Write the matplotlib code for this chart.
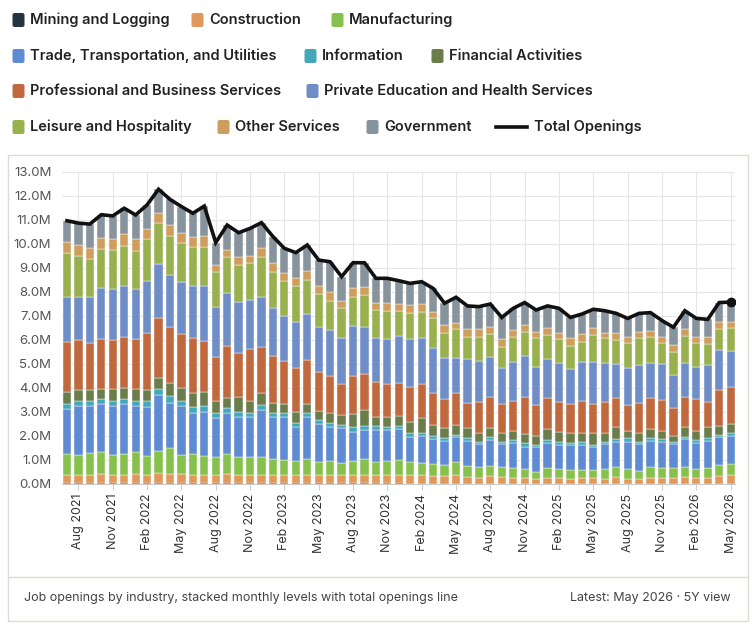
import numpy as np
import pandas as pd
import matplotlib.pyplot as plt
import matplotlib.patches as mpatches
import matplotlib.lines as mlines

plt.rcParams['font.family'] = ['Inter', 'DejaVu Sans']

# monthly job openings by industry, millions (Jul 2021 .. May 2026)
months = pd.date_range("2021-07-01", "2026-05-01", freq="MS")

mining = [0.03, 0.03, 0.03, 0.03, 0.03, 0.03, 0.03, 0.03, 0.03, 0.03, 0.03, 0.03, 0.03,
          0.03, 0.03, 0.03, 0.03, 0.03, 0.03, 0.03, 0.03, 0.03, 0.03, 0.03, 0.03, 0.03,
          0.03, 0.03, 0.03, 0.03, 0.02, 0.02, 0.02, 0.02, 0.02, 0.02, 0.02, 0.02, 0.02,
          0.02, 0.02, 0.02, 0.02, 0.02, 0.02, 0.02, 0.02, 0.02, 0.02, 0.02, 0.02, 0.02,
          0.02, 0.02, 0.02, 0.02, 0.02, 0.02, 0.02]
construction = [0.35, 0.35, 0.35, 0.39, 0.35, 0.35, 0.39, 0.35, 0.42, 0.39, 0.39, 0.35, 0.33,
                0.35, 0.39, 0.35, 0.33, 0.35, 0.35, 0.35, 0.33, 0.35, 0.33, 0.35, 0.33, 0.35,
                0.35, 0.35, 0.35, 0.35, 0.34, 0.34, 0.31, 0.31, 0.34, 0.29, 0.24, 0.31, 0.29,
                0.24, 0.24, 0.17, 0.24, 0.24, 0.20, 0.24, 0.24, 0.20, 0.29, 0.20, 0.20, 0.24,
                0.24, 0.24, 0.29, 0.24, 0.24, 0.31, 0.34]
manufacturing = [0.87, 0.83, 0.90, 0.93, 0.83, 0.87, 0.93, 0.79, 0.94, 1.07, 0.79, 0.87, 0.81,
                 0.76, 0.83, 0.76, 0.75, 0.73, 0.65, 0.62, 0.61, 0.65, 0.57, 0.59, 0.50, 0.59,
                 0.65, 0.55, 0.59, 0.62, 0.57, 0.53, 0.50, 0.46, 0.57, 0.44, 0.43, 0.42, 0.38,
                 0.39, 0.35, 0.32, 0.39, 0.35, 0.36, 0.32, 0.32, 0.39, 0.38, 0.39, 0.34, 0.43,
                 0.39, 0.39, 0.41, 0.35, 0.39, 0.46, 0.47]
trade = [1.86, 2.04, 1.97, 1.98, 2.04, 2.08, 1.90, 2.05, 2.32, 1.90, 2.04, 1.72, 1.83,
         1.60, 1.69, 1.67, 1.67, 1.97, 1.75, 1.78, 1.42, 1.75, 1.57, 1.39, 1.46, 1.21,
         1.22, 1.32, 1.28, 1.28, 1.04, 1.11, 1.03, 1.02, 1.01, 1.06, 0.98, 1.08, 0.98,
         1.04, 0.95, 1.02, 1.07, 1.02, 1.05, 1.05, 0.95, 1.06, 1.07, 1.15, 1.11, 1.12,
         1.11, 1.02, 1.14, 1.11, 1.16, 1.15, 1.17]
information = [0.22, 0.22, 0.22, 0.20, 0.22, 0.20, 0.21, 0.23, 0.23, 0.28, 0.22, 0.22, 0.25,
               0.23, 0.21, 0.20, 0.19, 0.21, 0.16, 0.16, 0.17, 0.16, 0.17, 0.17, 0.14, 0.18,
               0.17, 0.17, 0.14, 0.14, 0.14, 0.14, 0.14, 0.09, 0.10, 0.09, 0.09, 0.11, 0.09,
               0.14, 0.13, 0.10, 0.11, 0.13, 0.09, 0.13, 0.10, 0.09, 0.10, 0.14, 0.09, 0.09,
               0.10, 0.09, 0.11, 0.11, 0.09, 0.10, 0.11]
financial = [0.52, 0.45, 0.45, 0.41, 0.47, 0.46, 0.48, 0.47, 0.49, 0.52, 0.52, 0.62, 0.60,
             0.50, 0.42, 0.63, 0.50, 0.49, 0.45, 0.39, 0.44, 0.39, 0.39, 0.41, 0.42, 0.56,
             0.66, 0.36, 0.42, 0.41, 0.49, 0.60, 0.46, 0.42, 0.42, 0.42, 0.38, 0.38, 0.35,
             0.39, 0.39, 0.37, 0.45, 0.42, 0.39, 0.38, 0.48, 0.38, 0.50, 0.32, 0.38, 0.38,
             0.36, 0.25, 0.42, 0.39, 0.49, 0.38, 0.39]
professional = [2.08, 2.08, 1.97, 2.10, 2.06, 2.12, 2.10, 2.36, 2.47, 2.34, 2.26, 2.26, 2.12,
                1.81, 2.18, 1.80, 2.14, 1.92, 1.94, 1.81, 1.82, 1.84, 1.62, 1.56, 1.29, 1.58,
                1.50, 1.48, 1.36, 1.39, 1.43, 1.43, 1.32, 1.21, 1.32, 1.07, 1.29, 1.32, 1.22,
                1.25, 1.53, 1.29, 1.29, 1.25, 1.22, 1.33, 1.22, 1.29, 1.21, 1.07, 1.25, 1.29,
                1.28, 1.14, 1.22, 1.31, 1.04, 1.50, 1.53]
education_health = [1.88, 1.78, 1.91, 2.13, 2.11, 2.14, 2.07, 2.19, 2.27, 2.18, 2.15, 2.18, 2.28,
                    2.11, 2.19, 2.16, 2.06, 2.08, 1.99, 1.86, 1.94, 1.90, 1.88, 1.92, 1.90, 2.08,
                    1.98, 1.81, 1.86, 1.93, 2.00, 1.90, 1.87, 1.71, 1.46, 1.80, 1.71, 1.67, 1.49,
                    1.63, 1.72, 1.60, 1.62, 1.63, 1.45, 1.63, 1.77, 1.63, 1.43, 1.53, 1.57, 1.49,
                    1.50, 1.39, 1.45, 1.36, 1.53, 1.66, 1.53]
leisure = [1.80, 1.72, 1.58, 1.61, 1.64, 1.68, 1.61, 1.73, 1.69, 1.64, 1.63, 1.61, 1.61,
           1.46, 1.53, 1.52, 1.55, 1.69, 1.53, 1.47, 1.49, 1.43, 1.36, 1.22, 1.25, 1.20,
           1.32, 1.18, 1.19, 1.07, 1.11, 1.11, 1.25, 1.07, 1.20, 0.95, 1.00, 0.94, 0.90,
           1.01, 1.02, 1.18, 1.02, 0.97, 0.97, 0.83, 1.11, 1.01, 1.00, 1.04, 1.11, 1.05,
           0.86, 0.97, 1.11, 0.97, 0.87, 0.86, 0.93]
other_services = [0.46, 0.46, 0.47, 0.48, 0.45, 0.49, 0.48, 0.42, 0.42, 0.44, 0.41, 0.42, 0.47,
                  0.27, 0.28, 0.32, 0.28, 0.35, 0.34, 0.34, 0.32, 0.39, 0.33, 0.37, 0.32, 0.37,
                  0.34, 0.31, 0.31, 0.28, 0.32, 0.32, 0.28, 0.32, 0.25, 0.30, 0.30, 0.28, 0.31,
                  0.31, 0.28, 0.28, 0.28, 0.28, 0.32, 0.32, 0.28, 0.24, 0.28, 0.28, 0.28, 0.28,
                  0.28, 0.28, 0.27, 0.28, 0.31, 0.32, 0.27]
government = [0.90, 0.91, 0.98, 0.96, 0.97, 1.07, 1.01, 1.01, 1.00, 1.07, 1.12, 1.00, 1.25,
              0.94, 1.04, 1.03, 1.15, 1.07, 1.12, 1.01, 1.07, 1.07, 1.08, 1.25, 1.00, 1.07,
              1.00, 1.01, 1.04, 0.97, 0.90, 0.93, 0.97, 0.90, 1.09, 0.98, 0.95, 0.97, 0.91,
              0.90, 0.93, 0.90, 0.93, 1.01, 0.87, 0.83, 0.79, 0.91, 0.83, 0.76, 0.76, 0.75,
              0.67, 0.74, 0.78, 0.76, 0.72, 0.80, 0.82]

labels = ["Mining and Logging", "Construction", "Manufacturing",
          "Trade, Transportation, and Utilities", "Information", "Financial Activities",
          "Professional and Business Services", "Private Education and Health Services",
          "Leisure and Hospitality", "Other Services", "Government"]
colors = ["#263340", "#e0995a", "#86c04d", "#5f8bd3", "#43a8bb", "#6b7d4b",
          "#c0693f", "#6f8ec8", "#99b04f", "#cf9e5e", "#87949e"]
series = [mining, construction, manufacturing, trade, information, financial,
          professional, education_health, leisure, other_services, government]

W, H = 752, 630
fig = plt.figure(figsize=(W / 100, H / 100), dpi=100)

# panel frame + divider above caption (behind the axes)
fig.patches.append(mpatches.Rectangle((8 / W, 1 - 621 / H), 740 / W, 466 / H,
                                      transform=fig.transFigure, facecolor="white",
                                      edgecolor="#dcdcd2", linewidth=1.0, zorder=-5))
fig.lines.append(mlines.Line2D([8 / W, 748 / W], [1 - 577 / H, 1 - 577 / H],
                               transform=fig.transFigure, color="#dcdcd2", linewidth=1.0,
                               zorder=-4))

ax = fig.add_axes([62.4 / W, 146 / H, 672.8 / W, 312 / H], zorder=1)
ax.patch.set_alpha(0)
x = np.arange(len(months))
bottom = np.zeros(len(months))
for vals, col, lab in zip(series, colors, labels):
    vals = np.array(vals)
    ax.bar(x, vals, width=0.72, bottom=bottom, color=col, edgecolor="white",
           linewidth=0.3, label=lab, zorder=2)
    bottom += vals

total = bottom
ax.plot(x, total, color="#111111", linewidth=2.6, zorder=3, solid_joinstyle="miter")
ax.plot(x[-1], total[-1], "o", color="#111111", markersize=6, zorder=4)

ax.set_xlim(-0.4, len(months) - 0.6)
ax.set_ylim(0, 13)
ax.set_yticks(np.arange(0, 14, 1))
ax.set_yticklabels([f"{v:.1f}M" for v in range(0, 14)])
tick_idx = [i for i, m in enumerate(months) if m.month in (2, 5, 8, 11)]
ax.set_xticks(tick_idx)
ax.set_xticklabels([months[i].strftime("%b %Y") for i in tick_idx], rotation=90)
ax.tick_params(axis="y", length=0, pad=8, labelsize=9.5, labelcolor="#555555")
ax.tick_params(axis="x", length=4, color="#cccccc", pad=3, labelsize=9, labelcolor="#333333")
ax.grid(True, color="#e6e6e6", linewidth=0.8, zorder=0)
ax.set_axisbelow(True)
for s in ["top", "right", "left"]:
    ax.spines[s].set_visible(False)
ax.spines["bottom"].set_color("#cccccc")

# legend, laid out in rows like the original
rows = [
    [(0, 12), (1, 191), (2, 331)],
    [(3, 12), (4, 304), (5, 431)],
    [(6, 12), (7, 306)],
    [(8, 12), (9, 217), (10, 366), ("line", 496)],
]
row_y = [20, 56, 91, 127]
for items, yy in zip(rows, row_y):
    for idx, xx in items:
        if idx == "line":
            fig.lines.append(mlines.Line2D([xx / W, (xx + 31) / W], [1 - yy / H] * 2,
                                           transform=fig.transFigure, color="#111111",
                                           linewidth=2.6))
            fig.text((xx + 38) / W, 1 - yy / H, "Total Openings", fontsize=10.5,
                     fontweight="semibold", color="#222222", va="center", ha="left")
            continue
        fig.patches.append(mpatches.FancyBboxPatch(((xx + 0.5) / W, 1 - (yy + 7) / H),
                                                   12 / W, 14 / H,
                                                   boxstyle="round,pad=0,rounding_size=0.003",
                                                   transform=fig.transFigure,
                                                   facecolor=colors[idx], edgecolor="none"))
        fig.text((xx + 18) / W, 1 - yy / H, labels[idx], fontsize=10.5,
                 fontweight="semibold", color="#222222", va="center", ha="left")

fig.text(24 / W, 1 - 598 / H, "Job openings by industry, stacked monthly levels with total openings line",
         fontsize=9, color="#444444", va="center", ha="left")
fig.text(731 / W, 1 - 598 / H, "Latest: May 2026 · 5Y view",
         fontsize=9, color="#444444", va="center", ha="right")

fig.savefig("out.png", dpi=100, facecolor="white")
